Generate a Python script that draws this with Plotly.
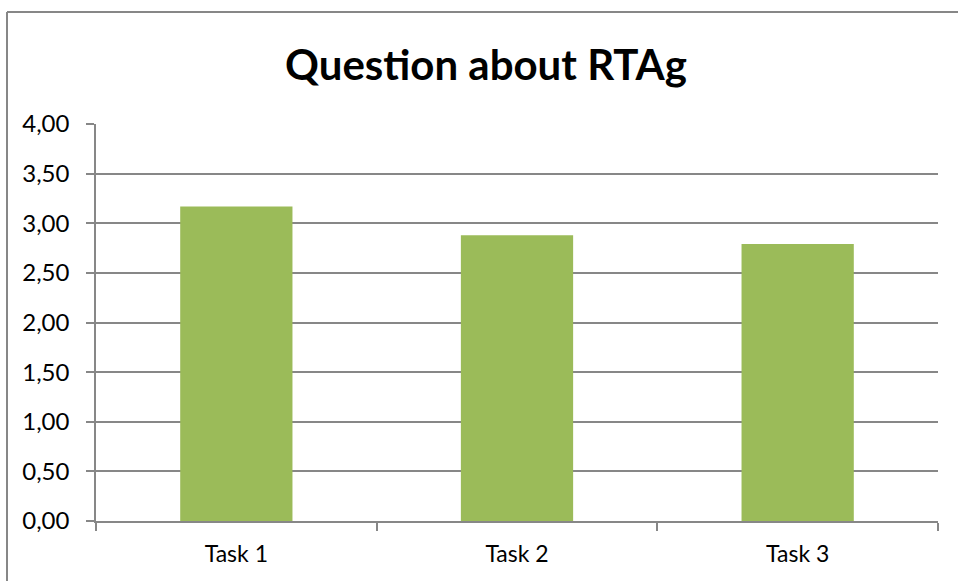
import plotly.graph_objects as go

# Mean answer per task
tasks = ["Task 1", "Task 2", "Task 3"]
scores = [3.17, 2.88, 2.79]
y_ticks = [0, 0.5, 1, 1.5, 2, 2.5, 3, 3.5, 4]

BAR_GREEN = "#9BBB59"
GRID_GREY = "#878787"
FONT = "Lato"

fig = go.Figure(
    go.Bar(x=tasks, y=scores, marker=dict(color=BAR_GREEN, line=dict(width=0)),
           hoverinfo="x+y")
)

fig.update_layout(
    width=958,
    height=581,
    margin=dict(l=96, r=20, t=124, b=60),
    paper_bgcolor="white",
    plot_bgcolor="white",
    separators=", ",
    bargap=0.6,
    showlegend=False,
    font=dict(family=FONT, color="#000000", size=21),
    title=dict(
        text="<b>Question about RTAg</b>",
        x=486 / 958,
        xanchor="center",
        xref="container",
        y=1 - 65 / 581,
        yanchor="middle",
        yref="container",
        font=dict(family=FONT, size=42, color="#000000"),
    ),
    # Chart frame (left and top edges)
    shapes=[
        dict(type="line", xref="paper", yref="paper",
             x0=(7 - 96) / 842, x1=(7 - 96) / 842,
             y0=-0.2, y1=(521 - 12) / 397,
             line=dict(color=GRID_GREY, width=2)),
        dict(type="line", xref="paper", yref="paper",
             x0=(7 - 96) / 842, x1=1.1,
             y0=(521 - 12) / 397, y1=(521 - 12) / 397,
             line=dict(color=GRID_GREY, width=2)),
    ],
)

fig.update_xaxes(
    type="category",
    showline=True,
    linecolor=GRID_GREY,
    linewidth=1.5,
    ticks="outside",
    tickson="boundaries",
    ticklen=8,
    tickcolor=GRID_GREY,
    tickwidth=1.5,
    showgrid=False,
    ticklabelstandoff=12,
    tickfont=dict(family=FONT, size=23),
)

fig.update_yaxes(
    range=[0, 4],
    tickvals=y_ticks,
    tickformat=".2f",
    showline=True,
    linecolor=GRID_GREY,
    linewidth=1.5,
    ticks="outside",
    ticklen=8,
    tickcolor=GRID_GREY,
    tickwidth=1.5,
    showgrid=True,
    gridcolor=GRID_GREY,
    gridwidth=1.5,
    zeroline=False,
    ticklabelstandoff=12,
    tickfont=dict(family=FONT, size=24),
)

fig.write_html("out.html")
